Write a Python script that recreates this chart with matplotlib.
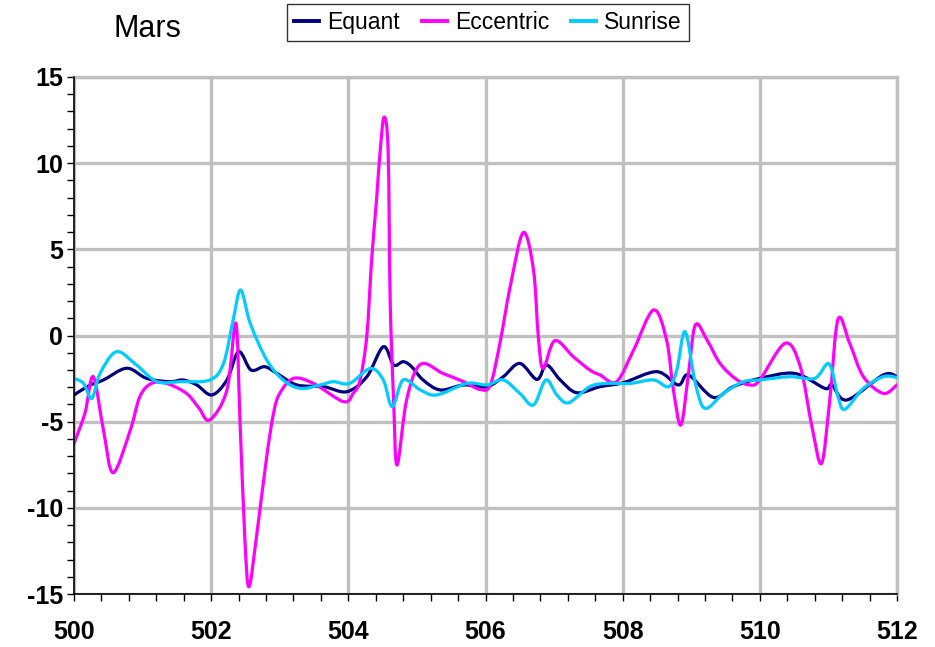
import numpy as np
import matplotlib
matplotlib.use("Agg")
import matplotlib.pyplot as plt
from matplotlib.path import Path
from matplotlib.patches import PathPatch
from matplotlib.lines import Line2D
from matplotlib.ticker import MultipleLocator

plt.rcParams['font.family'] = ['Liberation Sans', 'DejaVu Sans']
plt.rcParams['axes.unicode_minus'] = False

# values
equant_x = [500.0, 500.23, 500.43, 500.77, 501.06, 501.40, 501.59, 501.79, 502.01, 502.23,
            502.40, 502.58, 502.78, 502.96, 503.25, 503.64, 503.98, 504.27, 504.51, 504.66,
            504.80, 504.92, 505.09, 505.34, 505.68, 506.02, 506.26, 506.50, 506.75, 506.89,
            507.09, 507.33, 507.67, 508.01, 508.50, 508.81, 508.96, 509.32, 509.61, 510.0,
            510.51, 510.95, 511.05, 511.27, 511.80, 512.0]
equant_y = [-3.45, -2.89, -2.58, -1.90, -2.49, -2.68, -2.58, -2.87, -3.45, -2.58,
            -0.94, -2.0, -1.81, -2.2, -2.87, -2.97, -3.26, -2.39, -0.65, -1.71,
            -1.52, -1.8, -2.58, -3.16, -2.87, -2.97, -2.39, -1.62, -2.55, -1.71,
            -2.58, -3.32, -2.97, -2.74, -2.10, -2.87, -2.29, -3.59, -2.97, -2.49,
            -2.2, -3.07, -2.87, -3.74, -2.29, -2.39]

eccentric_x = [500.0, 500.16, 500.28, 500.43, 500.57, 500.82, 500.96, 501.13, 501.35, 501.64,
               501.82, 501.98, 502.23, 502.36, 502.42, 502.49, 502.55, 502.66, 502.81, 502.91,
               503.0, 503.20, 503.49, 503.93, 504.07, 504.17, 504.27, 504.34, 504.41, 504.46,
               504.52, 504.58, 504.61, 504.66, 504.71, 504.85, 505.05, 505.38, 505.68, 505.92,
               506.07, 506.21, 506.36, 506.55, 506.70, 506.77, 506.84, 507.01, 507.28, 507.52,
               507.67, 507.91, 508.16, 508.45, 508.64, 508.74, 508.85, 508.96, 509.06, 509.23,
               509.42, 509.66, 509.86, 510.0, 510.37, 510.59, 510.76, 510.90, 511.02, 511.14,
               511.31, 511.51, 511.80, 512.0]
eccentric_y = [-6.26, -4.5, -2.39, -5.5, -7.96, -5.5, -3.55, -2.78, -2.78, -3.36,
               -4.2, -4.9, -3.16, 0.71, -4.9, -11.7, -14.58, -11.7, -7.03, -4.5,
               -3.36, -2.49, -2.78, -3.84, -3.36, -2.6, 0.0, 4.4, 7.8, 10.5,
               12.66, 10.76, 2.06, -3.74, -7.52, -3.74, -1.68, -2.2, -2.68, -3.13,
               -2.87, -0.45, 2.83, 5.97, 3.8, -0.07, -1.91, -0.30, -1.23, -2.0,
               -2.29, -2.68, -0.84, 1.48, -0.26, -3.16, -5.19, -2.2, 0.61, -0.26,
               -1.62, -2.55, -2.87, -2.58, -0.45, -1.81, -5.29, -7.42, -3.74, 0.94,
               -0.45, -2.39, -3.36, -2.87]

sunrise_x = [500.0, 500.14, 500.26, 500.38, 500.62, 500.91, 501.21, 501.55, 501.98, 502.18,
             502.32, 502.43, 502.57, 502.81, 503.05, 503.30, 503.59, 503.78, 504.02, 504.32,
             504.51, 504.64, 504.80, 505.05, 505.29, 505.73, 506.02, 506.26, 506.50, 506.70,
             506.88, 507.04, 507.21, 507.52, 507.77, 508.11, 508.45, 508.67, 508.79, 508.91,
             509.06, 509.20, 509.47, 509.76, 510.0, 510.44, 510.80, 511.01, 511.14, 511.24,
             511.51, 511.80, 512.0]
sunrise_y = [-2.49, -2.78, -3.65, -2.2, -0.94, -1.71, -2.68, -2.68, -2.58, -1.62,
             0.9, 2.64, 0.7, -1.42, -2.58, -3.07, -2.87, -2.68, -2.78, -1.91,
             -2.58, -4.13, -2.58, -3.16, -3.45, -2.78, -2.87, -2.58, -3.36, -4.03,
             -2.58, -3.45, -3.9, -2.97, -2.78, -2.78, -2.58, -2.97, -2.0, 0.22,
             -2.78, -4.23, -3.36, -2.68, -2.58, -2.39, -2.49, -1.65, -3.55, -4.28,
             -3.07, -2.39, -2.43]

names = ['Equant', 'Eccentric', 'Sunrise']
colors = ['#000080', '#FF00FF', '#00CCFF']


def smooth_path(xs, ys):
    # Excel-style smoothed line: Catmull-Rom through the points as cubic Beziers
    pts = np.column_stack([xs, ys])
    ext = np.vstack([pts[0], pts, pts[-1]])
    verts = [pts[0]]
    codes = [Path.MOVETO]
    for i in range(len(pts) - 1):
        p0, p1, p2, p3 = ext[i], ext[i + 1], ext[i + 2], ext[i + 3]
        verts += [p1 + (p2 - p0) / 6, p2 - (p3 - p1) / 6, p2]
        codes += [Path.CURVE4] * 3
    return Path(verts, codes)


fig = plt.figure(figsize=(9.35, 6.47), dpi=100)
ax = fig.add_axes([74 / 935, 1 - 594 / 647, 823 / 935, 517 / 647])

series = [(equant_x, equant_y), (eccentric_x, eccentric_y), (sunrise_x, sunrise_y)]
for (xs, ys), c in zip(series, colors):
    patch = PathPatch(smooth_path(xs, ys), facecolor='none', edgecolor=c, lw=2.3,
                      joinstyle='round', capstyle='round', zorder=3)
    ax.add_patch(patch)

ax.set_xlim(500, 512)
ax.set_ylim(-15, 15)
ax.xaxis.set_major_locator(MultipleLocator(2))
ax.xaxis.set_minor_locator(MultipleLocator(0.4))
ax.yaxis.set_major_locator(MultipleLocator(5))
ax.yaxis.set_minor_locator(MultipleLocator(1))

ax.grid(True, which='major', color='#c0c0c0', lw=2.4)
ax.set_axisbelow(True)
for side in ['top', 'right']:
    ax.spines[side].set_color('#c0c0c0')
    ax.spines[side].set_linewidth(2.4)
for side in ['left', 'bottom']:
    ax.spines[side].set_color('black')
    ax.spines[side].set_linewidth(1.2)
    ax.spines[side].set_zorder(4)

ax.tick_params(which='both', direction='out', length=5, width=1, color='black')
ax.tick_params(axis='x', which='major', pad=14, labelsize=18)
ax.tick_params(axis='y', which='major', pad=3, labelsize=18)
for lab in ax.get_xticklabels() + ax.get_yticklabels():
    lab.set_fontweight('bold')

fig.text(113 / 935, 1 - 37 / 647, 'Mars', fontsize=22, ha='left', va='baseline')

handles = [Line2D([], [], color=c, lw=2.8) for c in colors]
leg = fig.legend(handles, names, loc='center', bbox_to_anchor=(488 / 935, 1 - 22.5 / 647),
                 ncol=3, fontsize=16.5, frameon=True, fancybox=False, edgecolor='black',
                 handlelength=1.1, handletextpad=0.35, columnspacing=0.95,
                 borderpad=0.3, borderaxespad=0)
leg.get_frame().set_linewidth(1.0)

fig.savefig('out.png', dpi=100, facecolor='white')
